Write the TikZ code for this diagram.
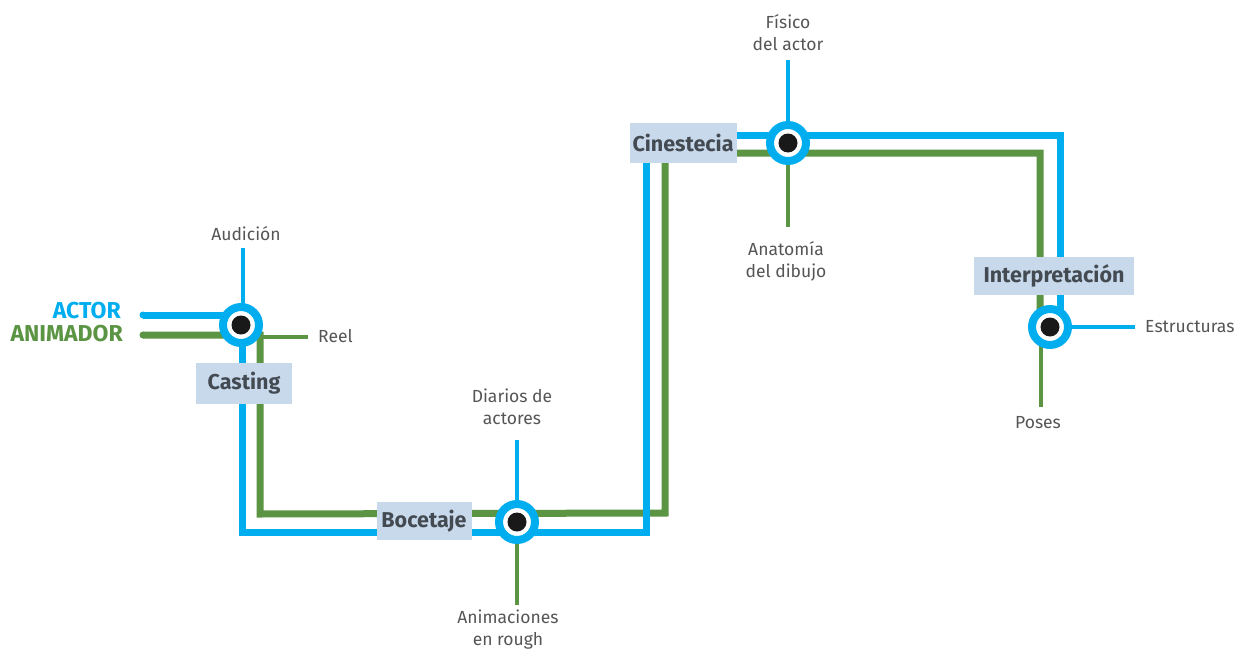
\documentclass[tikz,border=0pt]{standalone}
\usepackage{fontspec}
\setmainfont{Fira Sans}
\definecolor{lblue}{HTML}{00AEEF}
\definecolor{lgreen}{HTML}{5B9443}
\definecolor{boxfill}{HTML}{C8D9EC}
\definecolor{boxtext}{HTML}{444A52}
\definecolor{smalltext}{HTML}{555555}
\tikzset{
  mainline/.style={line width=7pt, line join=miter},
  feeder/.style={line width=3.5pt},
  station/.style={circle, draw=lblue, line width=8pt, fill=white, inner sep=0pt, minimum size=36pt,
    path picture={\fill[black!90] (path picture bounding box.center) circle (9.5pt);}},
  stlabel/.style={fill=boxfill, text=boxtext, font=\fontsize{21.5}{24}\selectfont\bfseries, inner sep=0pt},
  small/.style={text=smalltext, font=\fontsize{17.5}{22}\selectfont, align=center, inner sep=0pt},
  lineName/.style={font=\fontsize{23}{26}\selectfont\bfseries, inner sep=0pt}
}
\begin{document}
\begin{tikzpicture}[x=1pt,y=-1pt]
\useasboundingbox[fill=white] (0,0) rectangle (1240,653);
% station centres
\coordinate (cast) at (241,325);
\coordinate (boce) at (517,522);
\coordinate (cine) at (788,143);
\coordinate (inte) at (1050,327);
% line starts
\coordinate (actorS) at (143,315);
\coordinate (animS) at (143,335);
% feeder ends
\coordinate (audE) at (243,248);
\coordinate (reelE) at (308,337);
\coordinate (diaE) at (517,440);
\coordinate (aniE) at (517,605);
\coordinate (fisE) at (788,60);
\coordinate (anaE) at (788,227);
\coordinate (estE) at (1135,327);
\coordinate (posE) at (1041,407);
% feeders
\draw[feeder, lblue] (audE) -- (243,325);
\draw[feeder, lgreen] (260,337) -- (reelE);
\draw[feeder, lblue] (diaE) -- (boce);
\draw[feeder, lgreen] (boce) -- (aniE);
\draw[feeder, lblue] (fisE) -- (cine);
\draw[feeder, lgreen] (cine) -- (anaE);
\draw[feeder, lblue] (inte) -- (estE);
\draw[feeder, lgreen] (1041,327) -- (posE);
% main lines
\draw[mainline, lgreen] (animS) -- (260,335) -- (260,514) -- (665,513) -- (665,153) -- (1040,153) -- (1040,327);
\draw[mainline, lblue] (actorS) -- (242,315) -- (242,532) -- (646,532) -- (646,135) -- (1060,135) -- (1060,327);
\fill[lblue] (actorS) circle (3.5pt);
\fill[lgreen] (animS) circle (3.5pt);
% stations
\node[station] (castS) at (cast) {};
\node[station] (boceS) at (boce) {};
\node[station] (cineS) at (cine) {};
\node[station] (inteS) at (inte) {};
% station labels
\node[stlabel, minimum width=96pt, minimum height=41pt] (castL) at (244,383) {Casting};
\node[stlabel, minimum width=95pt, minimum height=38pt] (boceL) at (424,521) {Bocetaje};
\node[stlabel, minimum width=107pt, minimum height=40pt] (cineL) at (683,143) {Cinestecia};
\node[stlabel, minimum width=160pt, minimum height=38pt] (inteL) at (1054,276) {Interpretación};
% line names
\node[lineName, text=lblue, anchor=east] (actor) at (121,311) {ACTOR};
\node[lineName, text=lgreen, anchor=east] (animador) at (123,334) {ANIMADOR};
% small labels
\node[small] (aud) at (246,234) {Audición};
\node[small, anchor=west] (reel) at (318,336) {Reel};
\node[small] (dia) at (512,407) {Diarios de\\actores};
\node[small] (ani) at (508,630) {Animaciones\\en rough};
\node[small] (fis) at (788,33) {Físico\\del actor};
\node[small] (ana) at (786,261) {Anatomía\\del dibujo};
\node[small, anchor=west] (est) at (1145,327) {Estructuras};
\node[small] (pos) at (1038,423) {Poses};
\end{tikzpicture}
\end{document}
